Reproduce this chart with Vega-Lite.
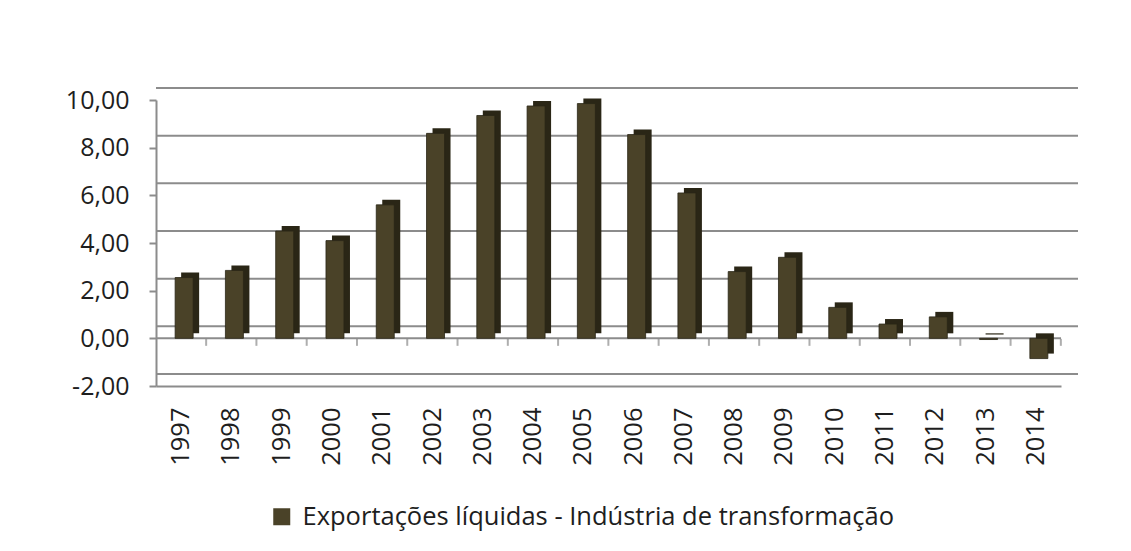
{
  "$schema": "https://vega.github.io/schema/vega-lite/v6.json",
  "autosize": {"type": "none"},
  "width": 905,
  "height": 286,
  "padding": {"left": 156, "top": 100, "right": 70, "bottom": 165},
  "background": "white",
  "config": {
    "locale": {"number": {"decimal": ",", "thousands": ".", "grouping": [3], "currency": ["R$", ""], "minus": "-"}},
    "font": "Open Sans",
    "view": {"stroke": null}
  },
  "data": {"values": [
    {"ano": "1997", "valor": 2.55, "serie": "Exportações líquidas - Indústria de transformação"},
    {"ano": "1998", "valor": 2.85, "serie": "Exportações líquidas - Indústria de transformação"},
    {"ano": "1999", "valor": 4.5, "serie": "Exportações líquidas - Indústria de transformação"},
    {"ano": "2000", "valor": 4.1, "serie": "Exportações líquidas - Indústria de transformação"},
    {"ano": "2001", "valor": 5.6, "serie": "Exportações líquidas - Indústria de transformação"},
    {"ano": "2002", "valor": 8.6, "serie": "Exportações líquidas - Indústria de transformação"},
    {"ano": "2003", "valor": 9.35, "serie": "Exportações líquidas - Indústria de transformação"},
    {"ano": "2004", "valor": 9.75, "serie": "Exportações líquidas - Indústria de transformação"},
    {"ano": "2005", "valor": 9.85, "serie": "Exportações líquidas - Indústria de transformação"},
    {"ano": "2006", "valor": 8.55, "serie": "Exportações líquidas - Indústria de transformação"},
    {"ano": "2007", "valor": 6.1, "serie": "Exportações líquidas - Indústria de transformação"},
    {"ano": "2008", "valor": 2.8, "serie": "Exportações líquidas - Indústria de transformação"},
    {"ano": "2009", "valor": 3.4, "serie": "Exportações líquidas - Indústria de transformação"},
    {"ano": "2010", "valor": 1.3, "serie": "Exportações líquidas - Indústria de transformação"},
    {"ano": "2011", "valor": 0.6, "serie": "Exportações líquidas - Indústria de transformação"},
    {"ano": "2012", "valor": 0.9, "serie": "Exportações líquidas - Indústria de transformação"},
    {"ano": "2013", "valor": -0.05, "serie": "Exportações líquidas - Indústria de transformação"},
    {"ano": "2014", "valor": -0.85, "serie": "Exportações líquidas - Indústria de transformação"}
  ]},
  "encoding": {
    "x": {"field": "ano", "type": "nominal", "sort": null,
      "scale": {"paddingInner": 0, "paddingOuter": 0},
      "axis": {"title": null, "labelAngle": -90, "labelFontSize": 25.5, "labelColor": "#1e1e1e",
        "ticks": false, "labelPadding": 21, "domainColor": "#8c8c8c", "domainWidth": 2}}
  },
  "layer": [
    {
      "data": {"values": [{"g": -2}, {"g": 0}, {"g": 2}, {"g": 4}, {"g": 6}, {"g": 8}, {"g": 10}]},
      "mark": {"type": "rule", "color": "#8c8c8c", "strokeWidth": 2, "xOffset": 17, "yOffset": -12},
      "encoding": {"x": null, "y": {"field": "g", "type": "quantitative"}}
    },
    {
      "data": {"values": [{"g": 0}]},
      "mark": {"type": "rule", "color": "#8c8c8c", "strokeWidth": 2},
      "encoding": {"x": null, "y": {"field": "g", "type": "quantitative"}}
    },
    {
      "mark": {"type": "tick", "orient": "vertical", "color": "#8c8c8c", "thickness": 2, "size": 7, "xOffset": 25, "yOffset": 4},
      "encoding": {"y": {"datum": 0, "type": "quantitative"}}
    },
    {
      "mark": {"type": "bar", "width": 18, "color": "#2a2616", "xOffset": 9, "yOffset": -5},
      "encoding": {"y": {"field": "valor", "type": "quantitative"}}
    },
    {
      "mark": {"type": "bar", "width": 18, "xOffset": 3, "stroke": "#2a2616", "strokeWidth": 0.8},
      "encoding": {
        "y": {"field": "valor", "type": "quantitative",
          "scale": {"domain": [-2, 10], "nice": false, "zero": false},
          "axis": {"title": null, "values": [-2, 0, 2, 4, 6, 8, 10], "format": ".2f", "grid": false,
            "labelFontSize": 25, "labelColor": "#1e1e1e", "labelPadding": 20,
            "tickSize": 7, "tickColor": "#8c8c8c", "tickWidth": 2,
            "domainColor": "#8c8c8c", "domainWidth": 2}},
        "color": {"field": "serie", "type": "nominal",
          "scale": {"range": ["#4a4228"]},
          "legend": {"title": null, "orient": "none", "legendX": 113, "legendY": 404,
            "symbolType": "square", "symbolSize": 289, "symbolStrokeWidth": 0, "symbolOpacity": 1,
            "labelFontSize": 25.5, "labelColor": "#1e1e1e", "labelOffset": 8, "labelLimit": 900}}
      }
    }
  ]
}
